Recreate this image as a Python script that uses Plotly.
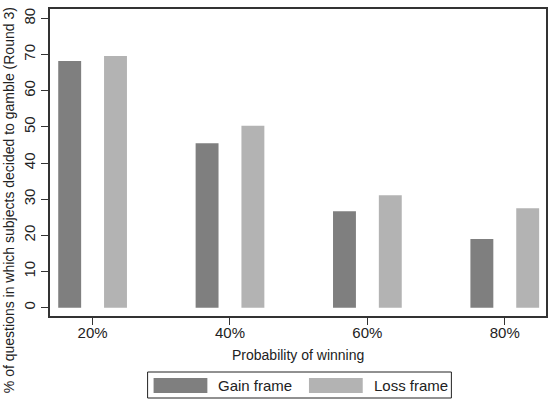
import plotly.graph_objects as go

categories = ["20%", "40%", "60%", "80%"]
gain_frame = [68.2, 45.5, 26.7, 19.0]
loss_frame = [69.6, 50.3, 31.1, 27.5]
series_names = ["Gain frame", "Loss frame"]
series_colors = ["#7f7f7f", "#b3b3b3"]
y_ticks = [0, 10, 20, 30, 40, 50, 60, 70, 80]

font = "Liberation Sans, Arial, Helvetica, sans-serif"

# plot area in pixels (for converting layout positions to paper coords)
L, R, T, B = 50, 548, 9, 316
W, H = R - L, B - T
def px(x):
    return (x - L) / W
def py(y):
    return (B - y) / H

fig = go.Figure()
for name, vals, col in zip(series_names, [gain_frame, loss_frame], series_colors):
    fig.add_trace(go.Bar(x=categories, y=vals, name=name,
                         marker=dict(color=col, line=dict(width=0))))

shapes = [dict(type="rect", xref="paper", yref="paper",
               x0=px(148), x1=px(453), y0=py(398), y1=py(372),
               line=dict(color="#222222", width=1), fillcolor="white")]
annotations = []
sw_x = [154, 310]
tx_x = [217, 373]
for name, col, sx, tx in zip(series_names, series_colors, sw_x, tx_x):
    shapes.append(dict(type="rect", xref="paper", yref="paper",
                       x0=px(sx), x1=px(sx + 54), y0=py(393), y1=py(378),
                       line=dict(width=0), fillcolor=col))
    annotations.append(dict(text=name, xref="paper", yref="paper",
                            x=px(tx), y=py(385.5), xanchor="left", yanchor="middle",
                            showarrow=False, font=dict(size=15)))

annotations.append(dict(text="Probability of winning", xref="paper", yref="paper",
                        x=0.5, y=py(355), xanchor="center", yanchor="middle",
                        showarrow=False, font=dict(size=14)))
annotations.append(dict(text="% of questions in which subjects decided to gamble (Round 3)",
                        xref="paper", yref="paper", x=px(9), y=py(200),
                        xanchor="center", yanchor="middle", textangle=-90,
                        showarrow=False, font=dict(size=14)))

fig.update_layout(
    width=553, height=400,
    margin=dict(l=L, r=553 - R, t=T, b=400 - B),
    paper_bgcolor="white", plot_bgcolor="white",
    barmode="group", bargap=0.333, bargroupgap=0.5,
    font=dict(family=font, size=14, color="#222222"),
    showlegend=False,
    shapes=shapes, annotations=annotations,
)
fig.update_xaxes(
    type="category", range=[-0.31, 3.30],
    showline=True, linecolor="#333333", linewidth=1.5, mirror=True,
    ticks="outside", ticklen=7, tickcolor="#333333",
    ticklabelstandoff=-5,
    showgrid=False, zeroline=False,
    tickfont=dict(size=15),
)
fig.update_yaxes(
    range=[-2.3, 82.6], tickvals=y_ticks,
    showline=True, linecolor="#333333", linewidth=1.5, mirror=True,
    ticks="outside", ticklen=7, tickcolor="#333333", tickangle=-90,
    ticklabelstandoff=0,
    showgrid=False, zeroline=False,
    tickfont=dict(size=15),
)

fig.write_html("out.html", config={"displayModeBar": False},
               post_script="document.body.style.margin='0';document.body.style.overflow='hidden';")
